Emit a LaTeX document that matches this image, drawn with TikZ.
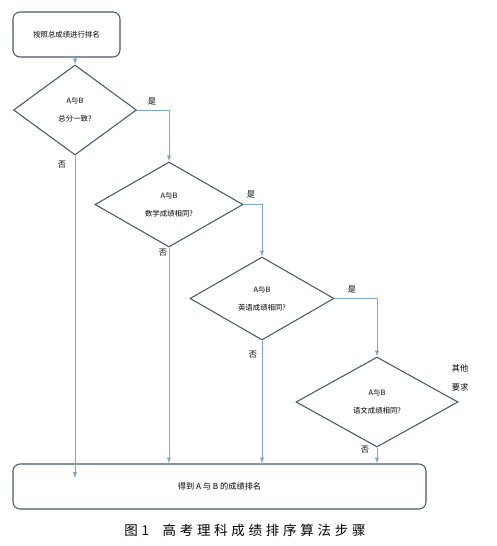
\documentclass[tikz,border=0pt]{standalone}
\usepackage{fontspec}
\setmainfont{Noto Sans CJK SC}
\newfontfamily\capfont[LetterSpace=28]{Noto Sans CJK SC}
\usetikzlibrary{arrows.meta,shapes.geometric}
\definecolor{edgeblue}{HTML}{7AA7D2}
\definecolor{boxline}{HTML}{44586C}
\tikzset{
  stepbox/.style={draw=boxline,line width=0.9pt,rounded corners=6pt,font=\fontsize{6.3}{8}\selectfont,inner sep=0pt},
  ask/.style={draw=boxline,line width=0.9pt,shape=diamond,inner sep=0pt,align=center,font=\fontsize{6.3}{15.5}\selectfont},
  flow/.style={draw=edgeblue,line width=0.7pt,-{Latex[length=5pt,width=3.6pt]}},
  tag/.style={font=\fontsize{7}{8}\selectfont,inner sep=0pt}
}
\begin{document}
\begin{tikzpicture}[x=0.03cm,y=-0.03cm]
            \useasboundingbox (0,0) rectangle (497,546);
            \node [stepbox,minimum width=3.21cm,minimum height=1.35cm] (start) at (66.5,34.5) {按照总成绩进行排名};
            \node [ask,minimum width=3.69cm,minimum height=2.7cm] (d1) at (75,110) {A与B\\总分一致?};
            \node [ask,minimum width=4.44cm,minimum height=2.55cm] (d2) at (169,204.5) {A与B\\数学成绩相同?};
            \node [ask,minimum width=4.32cm,minimum height=2.49cm] (d3) at (262,298.5) {A与B\\英语成绩相同?};
            \node [ask,minimum width=4.86cm,minimum height=2.7cm] (d4) at (377,402) {A与B\\语文成绩相同?};
            \node [stepbox,minimum width=12.39cm,minimum height=1.35cm,font=\fontsize{7}{8}\selectfont] (fin) at (219.5,486.5) {得到 A 与 B 的成绩排名};
            \coordinate (low) at (77,478);
            \draw [flow] (start.south -| d1.north) -- (d1.north);
            \draw [flow] (d1.east) -| (d2.north);
            \draw [flow] (d2.east) -| (d3.north);
            \draw [flow] (d3.east) -| (d4.north);
            \draw [flow] (d1.south) -- (d1.south |- low);
            \draw [flow] (d2.south) -- (d2.south |- fin.north);
            \draw [flow] (d3.south) -- (d3.south |- fin.north);
            \draw [flow] (d4.south) -- (d4.south |- fin.north);
            \node [tag] (y1) at (152,102) {是};
            \node [tag] (y2) at (251,195) {是};
            \node [tag] (y3) at (352,290) {是};
            \node [tag] (n1) at (62,165) {否};
            \node [tag] (n2) at (163,253) {否};
            \node [tag] (n3) at (253,355) {否};
            \node [tag] (n4) at (365,450) {否};
            \node [tag] (other) at (460,368) {其他};
            \node [tag] (need) at (460,387) {要求};
            \node [font=\capfont\fontsize{11.5}{14}\selectfont] (cap) at (245,530) {图1\hspace{1em}高考理科成绩排序算法步骤};
        \end{tikzpicture}
\end{document}
